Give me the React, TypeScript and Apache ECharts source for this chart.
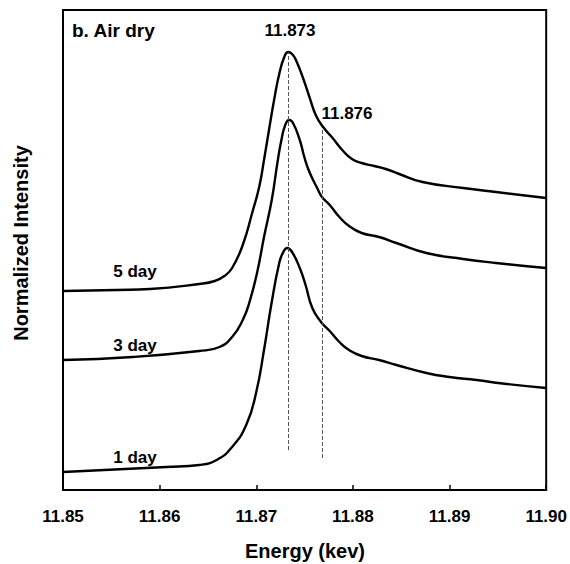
import React, { useEffect, useRef } from "react";
import * as echarts from "echarts";

// Energy (keV) and normalized intensity (arbitrary offset units) for each spectrum
const energy5 = [11.85, 11.8556, 11.859, 11.8641, 11.8657, 11.8667, 11.8675, 11.8686, 11.8696, 11.8703, 11.8708, 11.8714, 11.8719, 11.8724, 11.8729, 11.8733, 11.8737, 11.8741, 11.8748, 11.8755, 11.8762, 11.877, 11.8779, 11.8789, 11.8799, 11.8809, 11.8822, 11.8834, 11.8848, 11.8872, 11.8914, 11.8948, 11.9];
const int5 = [1.99, 2.0, 2.01, 2.06, 2.09, 2.14, 2.22, 2.45, 2.78, 3.03, 3.3, 3.65, 3.93, 4.17, 4.33, 4.38, 4.36, 4.3, 4.13, 3.93, 3.74, 3.62, 3.52, 3.4, 3.31, 3.27, 3.24, 3.21, 3.16, 3.08, 3.02, 2.98, 2.92];

const energy3 = [11.85, 11.8572, 11.8641, 11.8662, 11.8675, 11.8686, 11.8693, 11.8701, 11.8708, 11.8716, 11.8722, 11.8726, 11.873, 11.8734, 11.8738, 11.8745, 11.875, 11.8755, 11.8763, 11.8768, 11.8776, 11.8786, 11.8796, 11.8809, 11.8827, 11.8845, 11.8876, 11.8914, 11.8948, 11.9];
const int3 = [1.3, 1.33, 1.39, 1.43, 1.53, 1.7, 1.88, 2.18, 2.53, 2.9, 3.28, 3.5, 3.65, 3.7, 3.67, 3.5, 3.32, 3.18, 3.02, 2.93, 2.85, 2.73, 2.64, 2.57, 2.53, 2.47, 2.37, 2.31, 2.27, 2.22];

const energy1 = [11.85, 11.8607, 11.8641, 11.8659, 11.8675, 11.869, 11.87, 11.8708, 11.8716, 11.8724, 11.8728, 11.8732, 11.8737, 11.8745, 11.8751, 11.8758, 11.8767, 11.8776, 11.8786, 11.8796, 11.8809, 11.8827, 11.8845, 11.8876, 11.89, 11.8928, 11.8955, 11.9];
const int1 = [0.18, 0.23, 0.25, 0.3, 0.43, 0.66, 0.98, 1.4, 1.88, 2.28, 2.38, 2.42, 2.38, 2.22, 2.05, 1.82, 1.68, 1.59, 1.48, 1.4, 1.34, 1.3, 1.25, 1.17, 1.13, 1.1, 1.065, 1.02];

// Reference lines: energy, lower and upper intensity
const refEnergy = [11.8733, 11.8768];
const refLow = [0.4, 0.32];
const refHigh = [4.38, 3.6];
const refLabels = ["11.873", "11.876"];

const xTicks = [11.85, 11.86, 11.87, 11.88, 11.89, 11.9];

const FONT = '"Liberation Sans", Arial, Helvetica, sans-serif';

const zip = (xs: number[], ys: number[]) => xs.map((x, i) => [x, ys[i]]);

export default function App() {
  const ref = useRef<HTMLDivElement>(null);
  useEffect(() => {
    if (!ref.current) return;
    const chart = echarts.init(ref.current, undefined, { renderer: "svg" });
    const lineStyle = { color: "#000", width: 2.4 };
    const markLineData = refEnergy.map((e, i) => [
      { coord: [e, refLow[i]] },
      { coord: [e, refHigh[i]] },
    ]);
    chart.setOption({
      animation: false,
      backgroundColor: "#fff",
      grid: {
        left: 63,
        right: 23,
        top: 10,
        bottom: 74,
        show: true,
        borderColor: "#000",
        borderWidth: 2,
        backgroundColor: "transparent",
      },
      xAxis: {
        type: "value",
        min: 11.85,
        max: 11.9,
        interval: 0.01,
        axisLine: { show: true, lineStyle: { color: "#000", width: 2 } },
        axisTick: { show: true, inside: true, length: 5, lineStyle: { color: "#000", width: 1.5 } },
        splitLine: { show: false },
        axisLabel: {
          margin: 18,
          color: "#000",
          fontFamily: FONT,
          fontWeight: "bold",
          fontSize: 17,
          formatter: (v: number) => {
            const idx = xTicks.findIndex((t) => Math.abs(t - v) < 1e-6);
            return idx >= 0 ? xTicks[idx].toFixed(2) : "";
          },
        },
      },
      yAxis: {
        type: "value",
        min: 0,
        max: 4.8,
        axisLine: { show: true, lineStyle: { color: "#000", width: 2 } },
        axisTick: { show: false },
        axisLabel: { show: false },
        splitLine: { show: false },
      },
      series: [
        {
          name: "5 day",
          type: "line",
          data: zip(energy5, int5),
          smooth: 0.5,
          symbol: "none",
          lineStyle,
          markLine: {
            silent: true,
            symbol: "none",
            label: { show: false },
            lineStyle: { color: "#555", width: 1, type: [4, 2] },
            data: markLineData,
          },
        },
        { name: "3 day", type: "line", data: zip(energy3, int3), smooth: 0.5, symbol: "none", lineStyle },
        { name: "1 day", type: "line", data: zip(energy1, int1), smooth: 0.5, symbol: "none", lineStyle },
      ],
      graphic: [
        { type: "text", left: 72, top: 21, style: { text: "b. Air dry", font: `bold 19px ${FONT}`, fill: "#000" } },
        { type: "text", x: 290, y: 30, style: { text: refLabels[0], font: `bold 17px ${FONT}`, fill: "#000", align: "center", verticalAlign: "middle" } },
        { type: "text", x: 347, y: 113, style: { text: refLabels[1], font: `bold 17px ${FONT}`, fill: "#000", align: "center", verticalAlign: "middle" } },
        { type: "text", x: 135, y: 271, style: { text: "5 day", font: `bold 17px ${FONT}`, fill: "#000", align: "center", verticalAlign: "middle" } },
        { type: "text", x: 135, y: 345, style: { text: "3 day", font: `bold 17px ${FONT}`, fill: "#000", align: "center", verticalAlign: "middle" } },
        { type: "text", x: 135, y: 457, style: { text: "1 day", font: `bold 17px ${FONT}`, fill: "#000", align: "center", verticalAlign: "middle" } },
        { type: "text", x: 305, y: 551, style: { text: "Energy (kev)", font: `bold 20px ${FONT}`, fill: "#000", align: "center", verticalAlign: "middle" } },
        { type: "text", x: 21, y: 243, rotation: Math.PI / 2, style: { text: "Normalized Intensity", font: `bold 20px ${FONT}`, fill: "#000", align: "center", verticalAlign: "middle" } },
      ],
    });
    return () => chart.dispose();
  }, []);
  return <div ref={ref} style={{ position: "fixed", left: 0, top: 0, width: 570, height: 564 }} />;
}
